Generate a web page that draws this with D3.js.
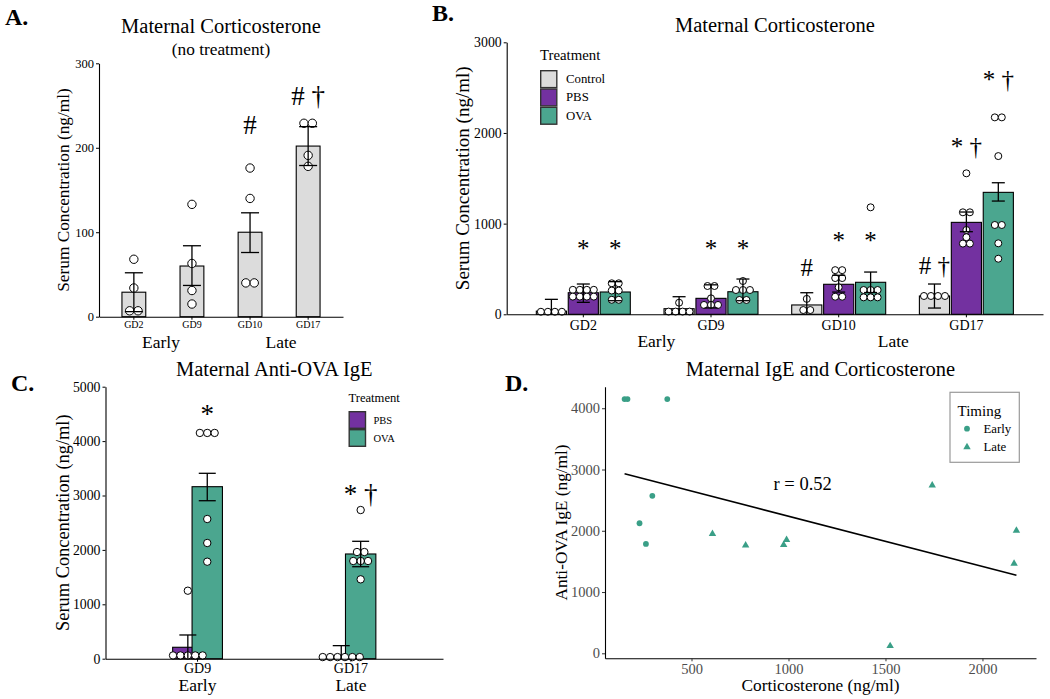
<!DOCTYPE html>
<html><head><meta charset="utf-8">
<script src="https://cdn.jsdelivr.net/npm/d3@7/dist/d3.min.js"></script>
<style>
body{margin:0;background:#fff;}
svg{display:block;font-family:"Liberation Serif","Times New Roman",serif;}
</style></head><body>
<svg id="c" width="1050" height="699"></svg>
<script>
// ---------------- DATA ----------------
// Panel A
const catsA = ["GD2","GD9","GD10","GD17"];
const meanA = [[29,60,100,202]];
const errLoA = [[6,37,76,179]];
const errHiA = [[52,84,123,225]];
const pointsA = [[[68,34,7,7],[133,63,31,15],[176,140,40,40],[229,229,191,178]]];
const markA = [["","","#","# †"]];
const markValA = [[0,0,228,262]];
const periodsA = ["Early","Late"];
const yTicksA = [0,100,200,300];

// Panel B
const catsB = ["GD2","GD9","GD10","GD17"];
const treatB = ["Control","PBS","OVA"];
const meanB = [[35,62,103,202],[238,176,331,1014],[246,249,353,1345]];
const errLoB = [[0,0,0,69],[132,70,245,911],[150,150,240,1249]];
const errHiB = [[165,194,238,334],[334,325,430,1128],[360,389,466,1451]];
const pointsB = [
  [[28,28,28,28],[128,30,30,30,30],[170,47,47],[202,202,202,202]],
  [[270,270,270,270,195,195,195,195],[312,312,176,103,103,103],[487,487,400,400,298,194,194],[1555,1125,1125,930,850,780,780]],
  [[342,342,262,262,160,160],[367,268,268,268,158,158],[1180,268,268,268,187,187,187],[2172,2172,1745,985,985,783,613]]
];
const markB = [["","","#","# †"],["*","*","*","* †"],["*","*","*","* †"]];
const markValB = [[0,0,525,544],[783,783,874,1859],[783,783,874,2594]];
const periodsB = ["Early","Late"];
const yTicksB = [0,1000,2000,3000];

// Panel C
const catsC = ["GD9","GD17"];
const treatC = ["PBS","OVA"];
const meanC = [[210,40],[3162,1925]];
const errLoC = [[0,0],[2904,1691]];
const errHiC = [[436,240],[3408,2158]];
const pointsC = [
  [[1250,60,60,60,60,60],[30,30,30,30,30,30]],
  [[4150,4150,4150,2568,2127,1783],[2733,1961,1961,1796,1796,1796,1459]]
];
const markC = [["",""],["*","* †"]];
const markValC = [[0,0],[4603,3040]];
const periodsC = ["Early","Late"];
const yTicksC = [0,1000,2000,3000,4000,5000];

// Panel D
const earlyX = [155,170,375,298,232,265];
const earlyY = [4150,4150,4150,2570,2123,1786];
const lateX = [608,779,975,990,1524,1741,2163,2175];
const lateY = [1949,1763,1770,1851,120,2743,1464,2003];
const xTicksD = [500,1000,1500,2000];
const yTicksD = [0,1000,2000,3000,4000];
const timingD = ["Early","Late"];

// colours
const colControl = "#dcdcdc", colPBS = "#7331a0", colOVA = "#4ba68f", colPt = "#3a9f87";

// ---------------- DRAW ----------------
const svg = d3.select("#c");
const FONT = '"Liberation Serif","Times New Roman",serif';
const fmt = d3.format("d");

function txt(x,y,s,size,o={}){
  const t = svg.append("text").attr("x",x).attr("y",y).text(s)
    .attr("font-size",size).attr("font-family",FONT)
    .attr("text-anchor",o.anchor||"middle")
    .attr("dominant-baseline",o.base||"central")
    .attr("fill",o.fill||"#000");
  if(o.weight) t.attr("font-weight",o.weight);
  if(o.rotate) t.attr("transform",`rotate(-90,${x},${y})`);
  if(o.dy) t.attr("dy",o.dy);
  return t;
}

function dotLayout(vals,y,r,cx){
  const s = vals.slice().sort((a,b)=>b-a);
  const bins=[];
  s.forEach(v=>{
    const last = bins[bins.length-1];
    if(last && Math.abs(y(last[0])-y(v)) < r*1.2) last.push(v); else bins.push([v]);
  });
  const out=[];
  bins.forEach(b=>{
    const yy = y(d3.mean(b));
    b.forEach((v,j)=>out.push({x:cx+(j-(b.length-1)/2)*2*r, y:yy}));
  });
  return out;
}

function barPanel(o){
  const x = d3.scaleBand().domain(o.cats).range([o.left,o.right]).paddingInner(0).paddingOuter(0.1);
  const y = d3.scaleLinear().domain([0,o.yMax]).range([o.bottom,o.top]);
  const step = x.step();
  const nT = o.means.length;
  const xc = (ci,ti)=> x(o.cats[ci]) + step/2 + (ti-(nT-1)/2)*o.dodge*step;
  const bw = o.barW*step;
  const g = svg.append("g");
  o.means.forEach((arr,ti)=>{
    g.selectAll(null).data(arr).join("rect")
      .attr("x",(d,i)=>xc(i,ti)-bw/2).attr("width",bw)
      .attr("y",d=>y(d)).attr("height",d=>y(0)-y(d))
      .attr("fill",o.colors[ti]).attr("stroke","#000").attr("stroke-width",1.1);
  });
  o.points.forEach((arr,ti)=>{
    arr.forEach((vals,ci)=>{
      const pts = dotLayout(vals,y,o.r,xc(ci,ti));
      g.selectAll(null).data(pts).join("circle")
        .attr("cx",d=>d.x).attr("cy",d=>d.y).attr("r",o.r)
        .attr("fill","#fff").attr("stroke","#000").attr("stroke-width",1);
    });
  });
  o.errLo.forEach((arr,ti)=>{
    arr.forEach((lo,ci)=>{
      const hi = o.errHi[ti][ci];
      const cx = xc(ci,ti);
      const y0 = y(Math.max(lo,0)), y1 = y(hi);
      g.append("line").attr("x1",cx).attr("x2",cx).attr("y1",y0).attr("y2",y1).attr("stroke","#000").attr("stroke-width",1.3);
      g.append("line").attr("x1",cx-o.cap/2).attr("x2",cx+o.cap/2).attr("y1",y1).attr("y2",y1).attr("stroke","#000").attr("stroke-width",1.3);
      if(lo>0) g.append("line").attr("x1",cx-o.cap/2).attr("x2",cx+o.cap/2).attr("y1",y0).attr("y2",y0).attr("stroke","#000").attr("stroke-width",1.3);
    });
  });
  o.marks.forEach((arr,ti)=>{
    arr.forEach((m,ci)=>{
      if(!m) return;
      txt(xc(ci,ti), y(o.markVals[ti][ci]), m, o.markFont, {dy: m==="*" ? "0.2em" : "0.02em"});
    });
  });
  const ya = g.append("g").attr("transform",`translate(${o.left},0)`)
    .call(d3.axisLeft(y).tickValues(o.yTicks).tickFormat(fmt).tickSize(3).tickSizeOuter(0).tickPadding(2));
  ya.attr("font-family",FONT).attr("font-size",o.yTickFont);
  ya.selectAll("text").attr("fill","#000");
  ya.selectAll("line").attr("stroke","#000");
  ya.select(".domain").attr("stroke","#000").attr("stroke-width",1.1);
  const xa = g.append("g").attr("transform",`translate(0,${o.bottom})`)
    .call(d3.axisBottom(x).tickSize(3).tickSizeOuter(0).tickFormat(""));
  xa.selectAll("line").attr("stroke","#000");
  xa.select(".domain").attr("stroke","#000").attr("stroke-width",1.1);
  o.cats.forEach(c=> txt(x(c)+step/2, o.xLabY, c, o.xTickFont));
  o.periods.forEach((p,i)=>{
    const px = o.periodAtBand ? x(o.cats[i])+step/2 : (o.left+o.right)/2 + (i===0?-1:1)*o.periodOff;
    txt(px, o.periodY, p, o.periodFont);
  });
  const cxp = (o.left+o.right)/2;
  txt(cxp, o.titleY, o.title, 20.5);
  if(o.subtitle) txt(cxp, o.subY, o.subtitle, 17.3);
  txt(o.yLabX, (o.top+o.bottom)/2, "Serum Concentration (ng/ml)", o.yLabFont, {rotate:true});
  txt(o.tagX, o.tagY, o.tag, 24, {anchor:"start", base:"alphabetic", weight:"bold"});
  return {x,y};
}

function legendBox(o){
  txt(o.x, o.titleY, o.title, o.titleFont, {anchor:"start"});
  o.items.forEach((it,i)=>{
    svg.append("rect").attr("x",o.x+0.7).attr("y",o.y0+i*o.h+0.7).attr("width",o.w-1.4).attr("height",o.h-1.4)
      .attr("fill",o.colors[i]).attr("stroke","#333").attr("stroke-width",1.4);
    txt(o.x+o.labDx, o.y0+i*o.h+o.h/2, it, o.font, {anchor:"start"});
  });
}

// Panel A
barPanel({cats:catsA, means:meanA, errLo:errLoA, errHi:errHiA, points:pointsA, marks:markA, markVals:markValA,
  colors:[colControl], left:99, right:343, top:63.3, bottom:316.7, yMax:300, yTicks:yTicksA,
  dodge:0, barW:0.41, r:4.2, cap:18, markFont:27, yTickFont:12.5, xTickFont:10, xLabY:324, periods:periodsA,
  periodOff:60, periodY:342, periodFont:17.5, title:"Maternal Corticosterone", titleY:26, subtitle:"(no treatment)", subY:49,
  yLabX:63, yLabFont:17.3, tag:"A.", tagX:5, tagY:25});

// Panel B
barPanel({cats:catsB, means:meanB, errLo:errLoB, errHi:errHiB, points:pointsB, marks:markB, markVals:markValB,
  colors:[colControl,colPBS,colOVA], left:506.7, right:1043, top:42.3, bottom:314.3, yMax:3000, yTicks:yTicksB,
  dodge:0.25, barW:0.236, r:3.5, cap:13, markFont:25, yTickFont:13.8, xTickFont:14, xLabY:325.5, periods:periodsB,
  periodOff:118.5, periodY:341, periodFont:17.5, title:"Maternal Corticosterone", titleY:25,
  yLabX:463, yLabFont:19, tag:"B.", tagX:432, tagY:21});
legendBox({x:540, titleY:55, title:"Treatment", titleFont:14.8, items:treatB, colors:[colControl,colPBS,colOVA],
  y0:70, h:18.3, w:17.5, labDx:26, font:12.8});

// Panel C
barPanel({cats:catsC, means:meanC, errLo:errLoC, errHi:errHiC, points:pointsC, marks:markC, markVals:markValC,
  colors:[colPBS,colOVA], left:105.5, right:443, top:386.7, bottom:658.7, yMax:5000, yTicks:yTicksC,
  dodge:0.1266, barW:0.198, r:3.7, cap:17, markFont:27, yTickFont:13.8, xTickFont:14, xLabY:668.5, periods:periodsC,
  periodAtBand:true, periodY:685, periodFont:17.5, title:"Maternal Anti-OVA IgE", titleY:369.3,
  yLabX:63, yLabFont:18.4, tag:"C.", tagX:11, tagY:391});
legendBox({x:348.5, titleY:398.3, title:"Treatment", titleFont:12.6, items:treatC, colors:[colPBS,colOVA],
  y0:411, h:18, w:17.7, labDx:25, font:10.5});

// Panel D
(function(){
  const L=605, R=1036, T=386.7, B=658.3;
  const allX = earlyX.concat(lateX), allY = earlyY.concat(lateY);
  const ex = d3.extent(allX), ey = d3.extent(allY);
  const px = (ex[1]-ex[0])*0.05, py = (ey[1]-ey[0])*0.05;
  const x = d3.scaleLinear().domain([ex[0]-px, ex[1]+px]).range([L,R]);
  const y = d3.scaleLinear().domain([ey[0]-py, ey[1]+py]).range([B,T]);
  const g = svg.append("g");
  const mx = d3.mean(allX), my = d3.mean(allY);
  const sxy = d3.sum(allX.map((v,i)=>(v-mx)*(allY[i]-my)));
  const sxx = d3.sum(allX.map(v=>(v-mx)*(v-mx)));
  const b = sxy/sxx, a = my - b*mx;
  g.append("line").attr("x1",x(ex[0])).attr("x2",x(ex[1])).attr("y1",y(a+b*ex[0])).attr("y2",y(a+b*ex[1]))
    .attr("stroke","#000").attr("stroke-width",1.5);
  g.selectAll(null).data(earlyX).join("circle").attr("cx",d=>x(d)).attr("cy",(d,i)=>y(earlyY[i])).attr("r",2.9).attr("fill",colPt);
  const tri = d3.symbol(d3.symbolTriangle).size(24);
  g.selectAll(null).data(lateX).join("path").attr("d",tri).attr("transform",(d,i)=>`translate(${x(d)},${y(lateY[i])})`).attr("fill",colPt);
  const ya = g.append("g").attr("transform",`translate(${L},0)`)
    .call(d3.axisLeft(y).tickValues(yTicksD).tickFormat(fmt).tickSize(3).tickSizeOuter(0).tickPadding(2));
  ya.attr("font-family",FONT).attr("font-size",14.5);
  ya.selectAll("text").attr("fill","#4d4d4d");
  ya.selectAll("line").attr("stroke","#333");
  ya.select(".domain").attr("stroke","#000").attr("stroke-width",1.1);
  const xa = g.append("g").attr("transform",`translate(0,${B})`)
    .call(d3.axisBottom(x).tickValues(xTicksD).tickFormat(fmt).tickSize(3).tickSizeOuter(0).tickPadding(2));
  xa.attr("font-family",FONT).attr("font-size",14.5);
  xa.selectAll("text").attr("fill","#4d4d4d");
  xa.selectAll("line").attr("stroke","#333");
  xa.select(".domain").attr("stroke","#000").attr("stroke-width",1.1);
  txt((L+R)/2, 369.3, "Maternal IgE and Corticosterone", 20.5);
  txt(561.7, (T+B)/2, "Anti-OVA IgE (ng/ml)", 17.3, {rotate:true});
  txt((L+R)/2, 685, "Corticosterone (ng/ml)", 17.3);
  txt(802.7, 484, "r = 0.52", 18.5);
  txt(505, 391, "D.", 24, {anchor:"start", base:"alphabetic", weight:"bold"});
  svg.append("rect").attr("x",950).attr("y",392.3).attr("width",69.3).attr("height",70).attr("fill","#fff")
    .attr("stroke","#9a9a9a").attr("stroke-width",1.2);
  txt(957.5, 410.5, "Timing", 15, {anchor:"start"});
  svg.append("circle").attr("cx",967).attr("cy",428.7).attr("r",2.9).attr("fill",colPt);
  svg.append("path").attr("d",tri).attr("transform","translate(967,447)").attr("fill",colPt);
  timingD.forEach((t,i)=> txt(983.5, 428.7+i*18.3, t, 12.8, {anchor:"start"}));
})();
</script>
</body></html>
